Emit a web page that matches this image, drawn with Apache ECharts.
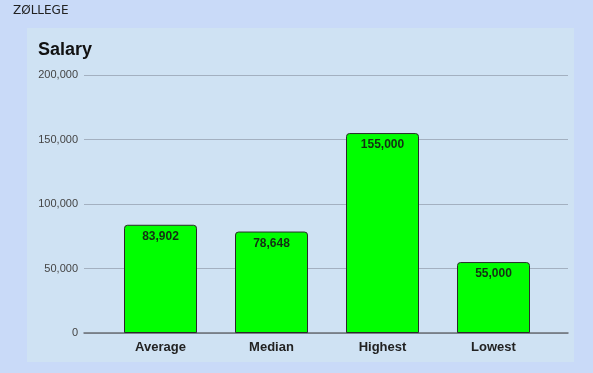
<!DOCTYPE html>
<html>
<head>
<meta charset="utf-8">
<script src="https://cdn.jsdelivr.net/npm/echarts@6/dist/echarts.min.js"></script>
<style>
html,body{margin:0;padding:0;background:#c9daf8;}
#c{width:593px;height:373px;}
</style>
</head>
<body>
<div id="c"></div>
<script>
const categories = ["Average", "Median", "Highest", "Lowest"];
const salaries = [83902, 78648, 155000, 55000];
const yTicks = [0, 50000, 100000, 150000, 200000];

const chart = echarts.init(document.getElementById('c'), null, {renderer: 'canvas'});
const fmt = v => v.toLocaleString('en-US');
const yMin = yTicks[0], yMax = yTicks[yTicks.length - 1], yStep = yTicks[1] - yTicks[0];

chart.setOption({
  backgroundColor: '#c9daf8',
  animation: false,
  graphic: [
    {type: 'rect', shape: {x: 27, y: 28, width: 547, height: 334}, style: {fill: '#cfe2f3'}, z: -10},
    {type: 'text', left: 13, top: 5, style: {text: 'ZØLLEGE', font: '12px "DejaVu Sans"', fill: '#222'}}
  ],
  title: {
    text: 'Salary', left: 33, top: 36,
    textStyle: {fontFamily: 'Arial, "Liberation Sans"', fontSize: 18, fontWeight: 'bold', color: '#111'}
  },
  grid: [
    {left: 84, right: 25, top: 75, bottom: 40},
    {left: 105, right: 44, top: 75, bottom: 40}
  ],
  xAxis: [
    {gridIndex: 0, type: 'value', show: true, min: 0, max: 1,
     axisLabel: {show: false}, axisTick: {show: false}, splitLine: {show: false},
     axisLine: {show: true, onZero: false, lineStyle: {color: '#6b6f76', width: 1.5}}},
    {gridIndex: 1, type: 'category', data: categories,
     axisLine: {show: false}, axisTick: {show: false},
     axisLabel: {margin: 8, fontFamily: 'Arial, "Liberation Sans"', fontSize: 13, fontWeight: 'bold', color: '#222'}}
  ],
  yAxis: [
    {gridIndex: 0, type: 'value', min: yMin, max: yMax, interval: yStep,
     axisLine: {show: false}, axisTick: {show: false},
     axisLabel: {margin: 6, formatter: v => fmt(v), fontFamily: 'Arial, "Liberation Sans"', fontSize: 11, color: '#444'},
     splitLine: {lineStyle: {color: '#a3b0c0', width: 1}}},
    {gridIndex: 1, type: 'value', min: yMin, max: yMax, interval: yStep, show: false, splitLine: {show: false}}
  ],
  series: [
    {type: 'bar', xAxisIndex: 1, yAxisIndex: 1, data: salaries, barWidth: 73,
     itemStyle: {color: '#00ff00', borderColor: '#2a2a2a', borderWidth: 1, borderRadius: [3, 3, 0, 0]},
     label: {show: true, position: 'insideTop', distance: 6, formatter: p => fmt(p.value),
       fontFamily: 'Arial, "Liberation Sans"', fontSize: 12, fontWeight: 'bold', color: '#143014'},
     z: 3}
  ]
});
</script>
</body>
</html>
